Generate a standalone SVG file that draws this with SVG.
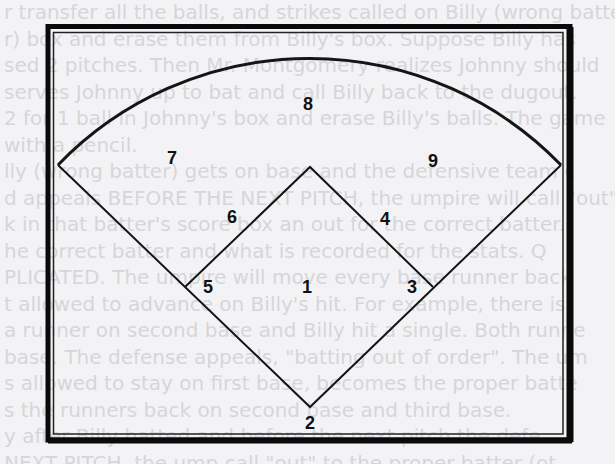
<svg xmlns="http://www.w3.org/2000/svg" width="615" height="464" viewBox="0 0 615 464">
<style>
.bg{font-family:"DejaVu Sans","Liberation Sans",sans-serif;font-size:20px;fill:#d6d6da}
.lbl{font-family:"Liberation Sans",Arial,sans-serif;font-size:18px;font-weight:bold;fill:#111;text-anchor:middle}
.ln{fill:none;stroke:#151515;stroke-width:2;stroke-linejoin:miter}
</style>
<rect x="0" y="0" width="615" height="464" fill="#f3f3f5"/>
<g id="showthrough">
<text class="bg" x="4" y="19">r transfer all the balls, and strikes called on Billy (wrong batter)</text>
<text class="bg" x="4" y="45.5">r) box and erase them from Billy's box. Suppose Billy has</text>
<text class="bg" x="4" y="72">sed 2 pitches. Then Mr. Montgomery realizes Johnny should</text>
<text class="bg" x="4" y="98.5">serves Johnny up to bat and call Billy back to the dugout.</text>
<text class="bg" x="4" y="125">2 for 1 ball in Johnny's box and erase Billy's balls. The game</text>
<text class="bg" x="4" y="151.5">with a pencil.</text>
<text class="bg" x="4" y="178">lly (wrong batter) gets on base and the defensive team c</text>
<text class="bg" x="4" y="204.5">d appeals BEFORE THE NEXT PITCH, the umpire will call "out"</text>
<text class="bg" x="4" y="231">k in that batter's score box an out for the correct batter.</text>
<text class="bg" x="4" y="257.5">he correct batter and what is recorded for the stats. Q</text>
<text class="bg" x="4" y="284">PLICATED.  The umpire will move every base runner back</text>
<text class="bg" x="4" y="310.5">t allowed to advance on Billy's hit.  For example, there is</text>
<text class="bg" x="4" y="337">a runner on second base and Billy hit a single. Both runne</text>
<text class="bg" x="4" y="363.5">base. The defense appeals, "batting out of order". The um</text>
<text class="bg" x="4" y="390">s allowed to stay on first base, becomes the proper batte</text>
<text class="bg" x="4" y="416.5">s the runners back on second base and third base.</text>
<text class="bg" x="4" y="443">y after Billy batted and before the next pitch the defe</text>
<text class="bg" x="4" y="469.5">NEXT PITCH, the ump call "out" to the proper batter (ot</text>
</g>
<g id="frame">
<rect x="48" y="26.5" width="522" height="413.5" fill="none" stroke="#0a0a0a" stroke-width="5"/>
<line x1="570" y1="27" x2="570" y2="442" stroke="#0a0a0a" stroke-width="7"/>
<line x1="48" y1="440.5" x2="572" y2="440.5" stroke="#0a0a0a" stroke-width="6"/>
<rect x="53.5" y="32.5" width="509.5" height="401.5" fill="none" stroke="#222" stroke-width="1.5"/>
</g>
<g id="connectors">
<path id="fence" d="M 58 165 A 350 350 0 0 1 561 165" fill="none" stroke="#151515" stroke-width="3"/>
<path id="foul-lines" class="ln" d="M 58 165 L 310 407 L 561 165"/>
<path id="infield" class="ln" d="M 185 287 L 310 167 L 433 287"/>
</g>
<g id="labels">
<g id="pos8"><text class="lbl" x="308" y="109.5">8</text></g>
<g id="pos7"><text class="lbl" x="172" y="164">7</text></g>
<g id="pos9"><text class="lbl" x="433" y="167">9</text></g>
<g id="pos6"><text class="lbl" x="232" y="223">6</text></g>
<g id="pos4"><text class="lbl" x="385" y="225">4</text></g>
<g id="pos5"><text class="lbl" x="208" y="293">5</text></g>
<g id="pos1"><text class="lbl" x="307" y="293">1</text></g>
<g id="pos3"><text class="lbl" x="412" y="293">3</text></g>
<g id="pos2"><text class="lbl" x="310" y="429">2</text></g>
</g>
</svg>
